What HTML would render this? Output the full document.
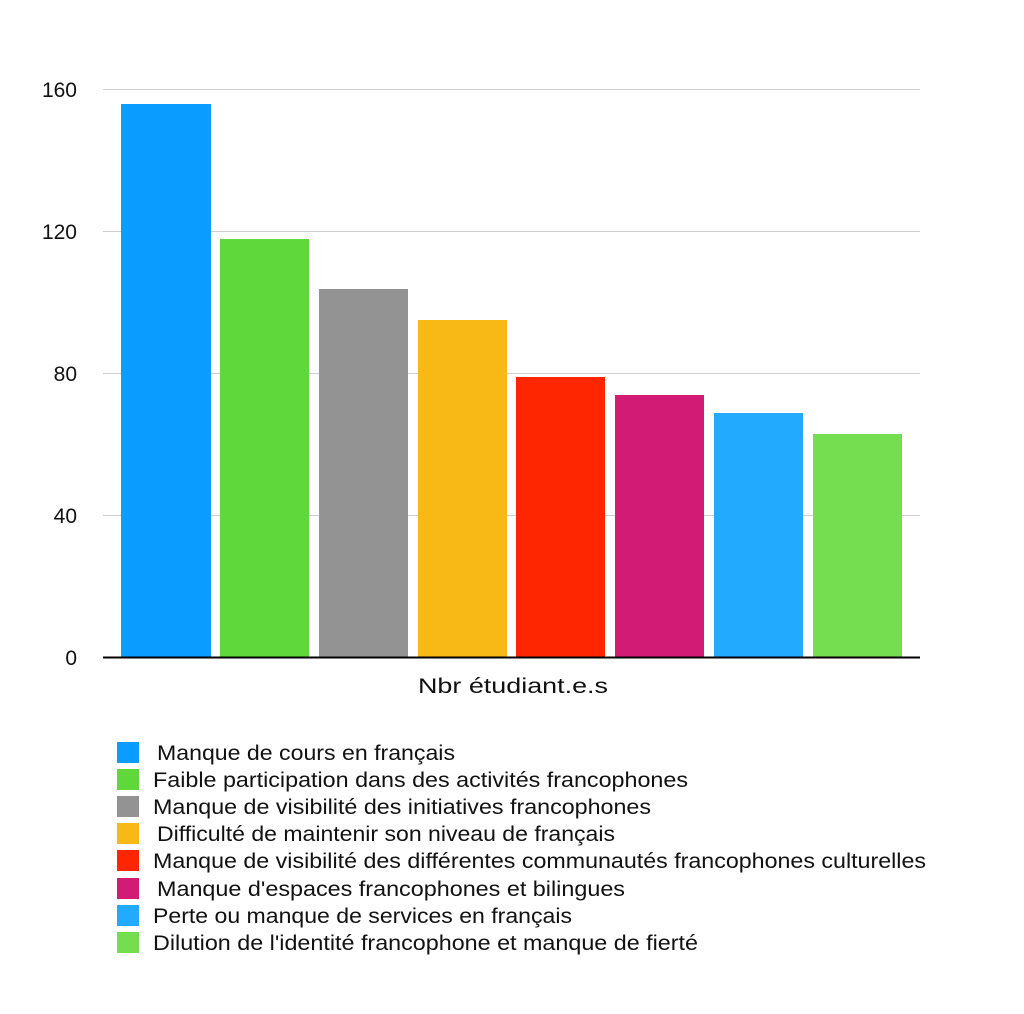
<!DOCTYPE html>
<html><head><meta charset="utf-8"><style>
body{margin:0;background:#fff;}
svg text{font-family:"Liberation Sans",Arial,sans-serif;fill:#111;}
</style></head><body>
<svg width="1024" height="1009" xmlns="http://www.w3.org/2000/svg">
<g stroke="#cfcfcf" stroke-width="1">
<line x1="103" y1="89.5" x2="920" y2="89.5"/>
<line x1="103" y1="231.5" x2="920" y2="231.5"/>
<line x1="103" y1="373.5" x2="920" y2="373.5"/>
<line x1="103" y1="515.5" x2="920" y2="515.5"/>
</g>
<g font-size="21" text-anchor="end">
<text x="77" y="97">160</text>
<text x="77" y="239">120</text>
<text x="77" y="381">80</text>
<text x="77" y="523">40</text>
<text x="77" y="665">0</text>
</g>
<rect x="121" y="104" width="90" height="553" fill="#0a9cff"/>
<rect x="220" y="239" width="89" height="418" fill="#5ed83a"/>
<rect x="319" y="289" width="89" height="368" fill="#939393"/>
<rect x="418" y="320" width="89" height="337" fill="#f8b916"/>
<rect x="516" y="377" width="89" height="280" fill="#fe2600"/>
<rect x="615" y="395" width="89" height="262" fill="#d21b74"/>
<rect x="714" y="413" width="89" height="244" fill="#22aaff"/>
<rect x="813" y="434" width="89" height="223" fill="#74dd50"/>
<line x1="103" y1="657.5" x2="920" y2="657.5" stroke="#000" stroke-width="2"/>
<text x="418" y="693" font-size="21" textLength="190" lengthAdjust="spacingAndGlyphs">Nbr étudiant.e.s</text>
<g font-size="21">
<rect x="117" y="742" width="22" height="21" fill="#0a9cff"/><text x="157" y="760" textLength="298" lengthAdjust="spacingAndGlyphs">Manque de cours en français</text>
<rect x="117" y="769" width="22" height="21" fill="#5ed83a"/><text x="153" y="787" textLength="535" lengthAdjust="spacingAndGlyphs">Faible participation dans des activités francophones</text>
<rect x="117" y="796" width="22" height="21" fill="#939393"/><text x="153" y="814" textLength="498" lengthAdjust="spacingAndGlyphs">Manque de visibilité des initiatives francophones</text>
<rect x="117" y="823" width="22" height="21" fill="#f8b916"/><text x="157" y="841" textLength="458" lengthAdjust="spacingAndGlyphs">Difficulté de maintenir son niveau de français</text>
<rect x="117" y="850" width="22" height="21" fill="#fe2600"/><text x="153" y="868" textLength="773" lengthAdjust="spacingAndGlyphs">Manque de visibilité des différentes communautés francophones culturelles</text>
<rect x="117" y="878" width="22" height="21" fill="#d21b74"/><text x="157" y="896" textLength="468" lengthAdjust="spacingAndGlyphs">Manque d'espaces francophones et bilingues</text>
<rect x="117" y="905" width="22" height="21" fill="#22aaff"/><text x="153" y="923" textLength="419" lengthAdjust="spacingAndGlyphs">Perte ou manque de services en français</text>
<rect x="117" y="932" width="22" height="21" fill="#74dd50"/><text x="153" y="950" textLength="545" lengthAdjust="spacingAndGlyphs">Dilution de l'identité francophone et manque de fierté</text>
</g>
</svg>
</body></html>
